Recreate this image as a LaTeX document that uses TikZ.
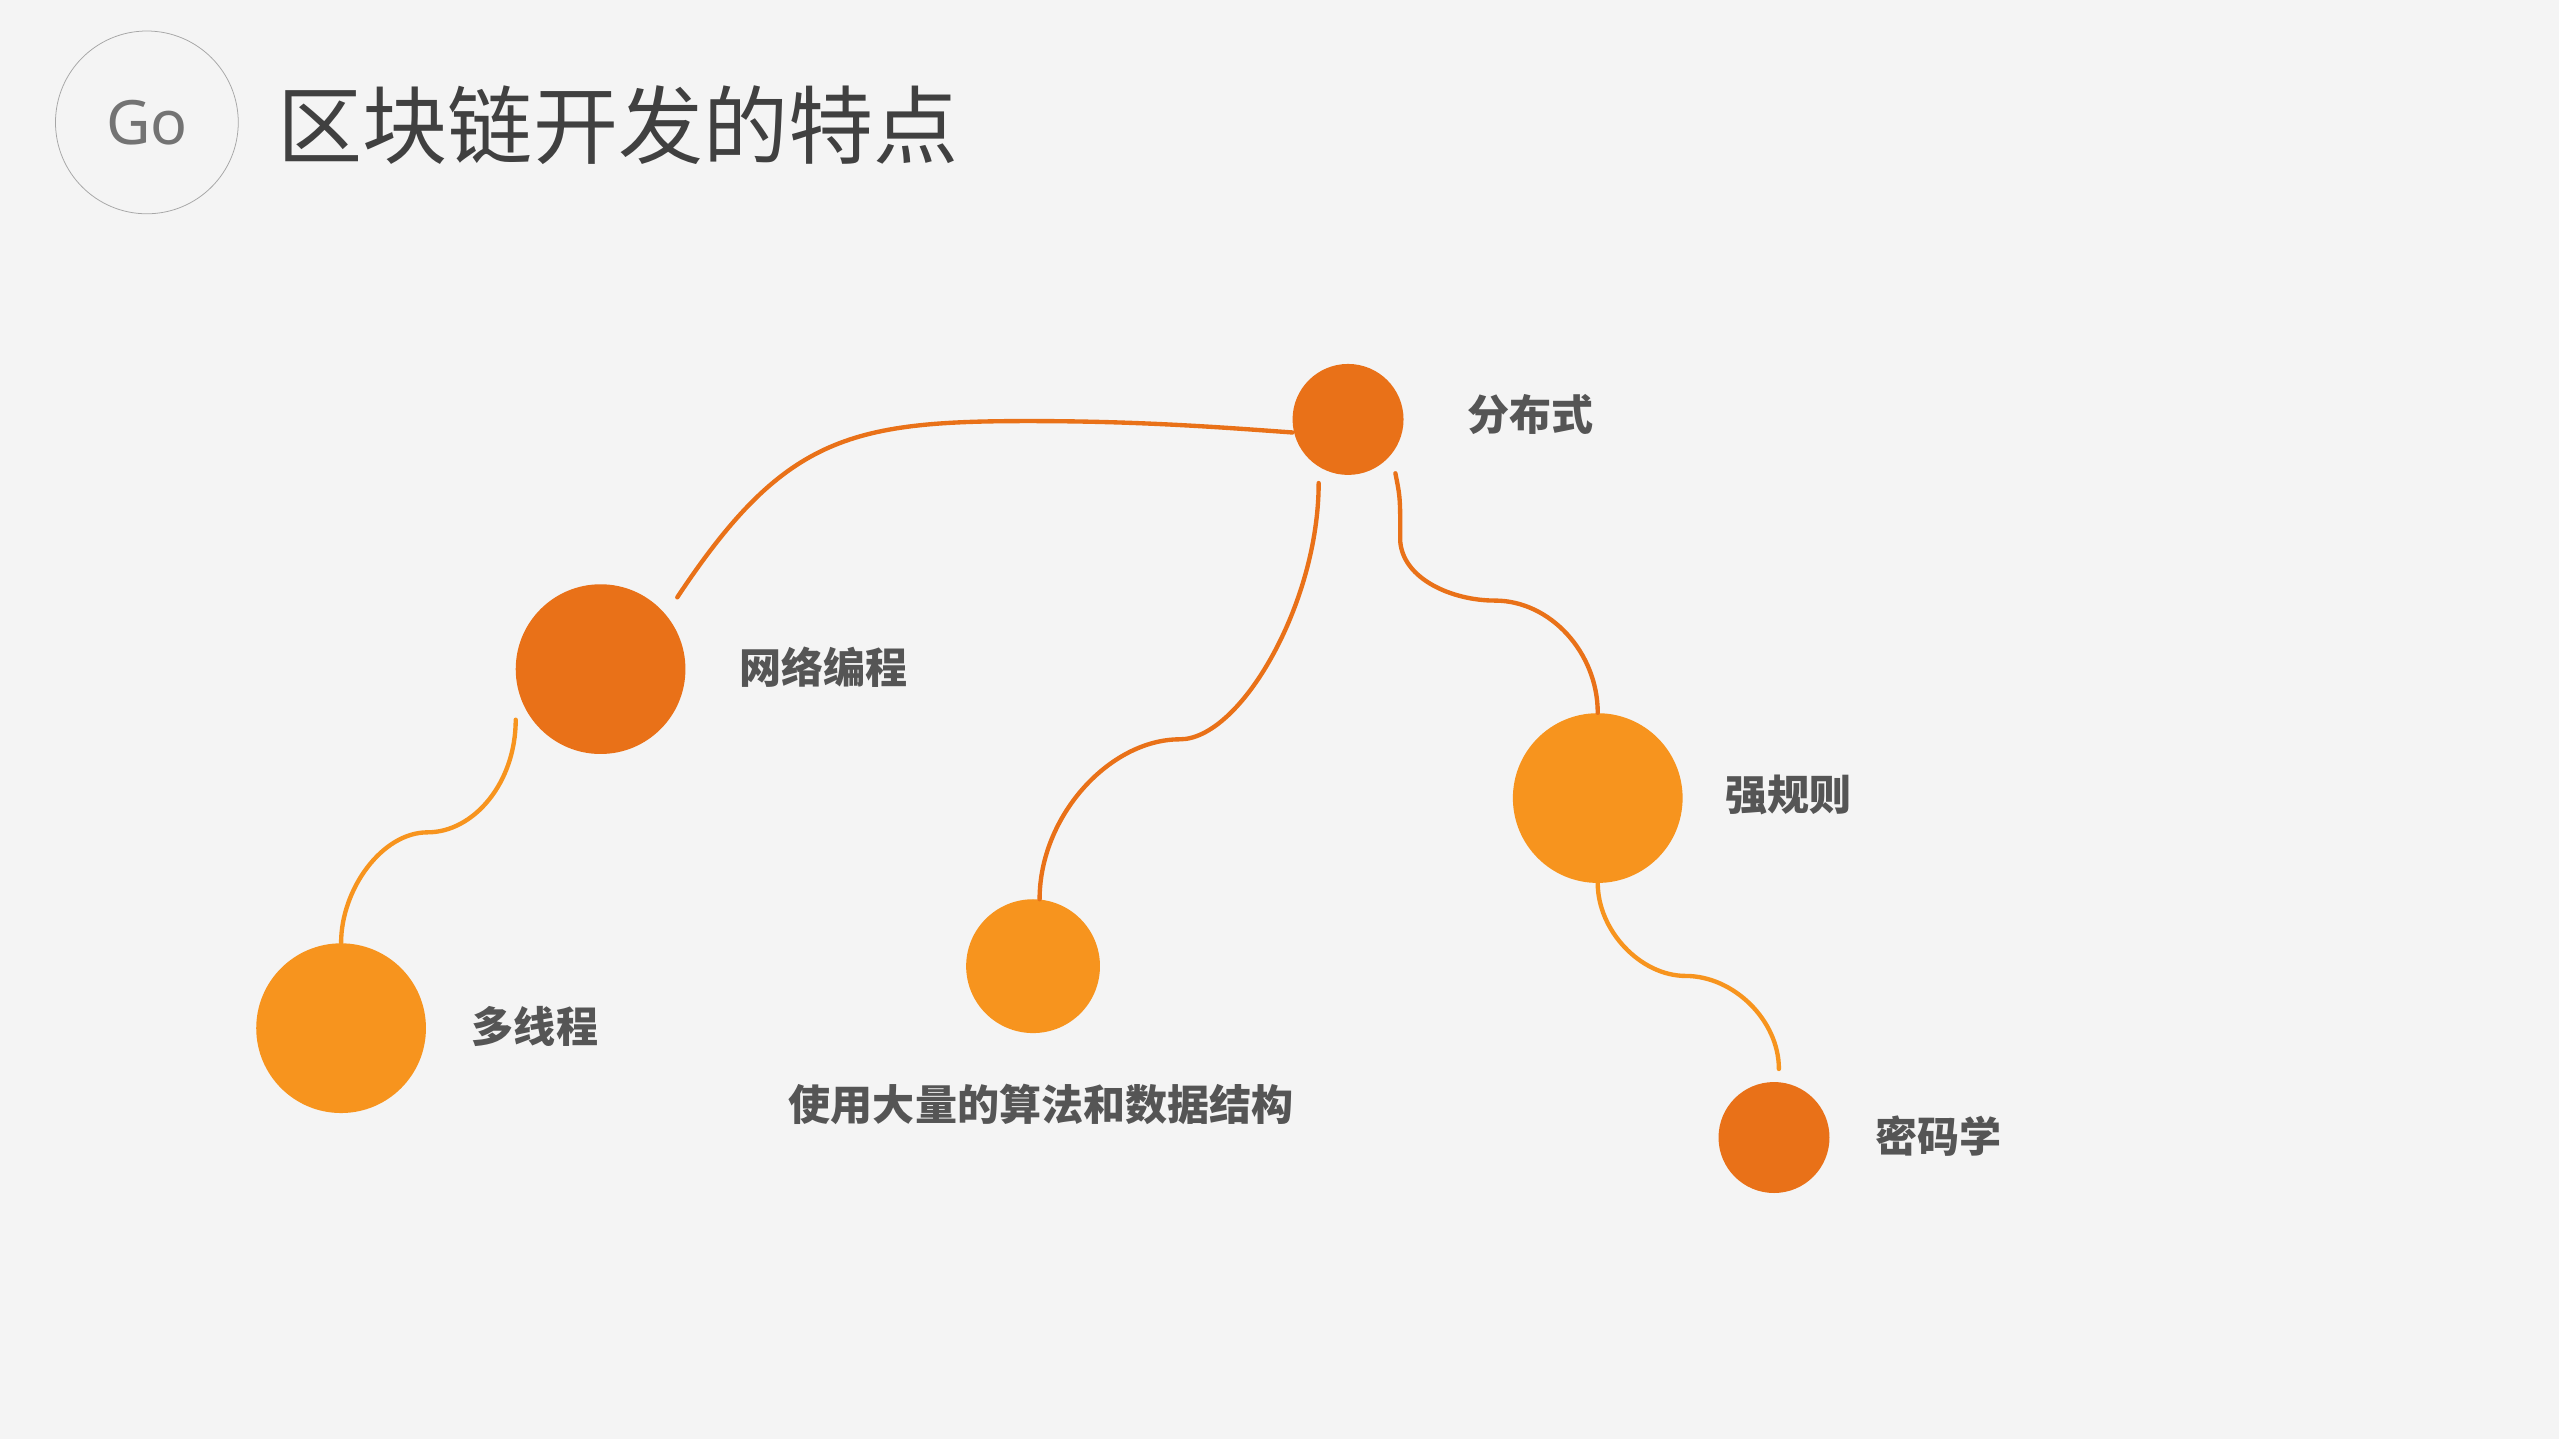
\documentclass[tikz,border=0pt]{standalone}
\usepackage{fontspec}
\newfontfamily\cjk{Noto Sans CJK SC}
\setmainfont{Noto Sans}
\definecolor{dark}{HTML}{E97118}
\definecolor{light}{HTML}{F7941E}
\definecolor{bg}{HTML}{F4F4F4}
\definecolor{txt}{HTML}{555555}
\begin{document}
\begin{tikzpicture}[x=0.3mm,y=-0.3mm,
  dot/.style={circle,inner sep=0pt},
  lab/.style={font=\cjk\bfseries\fontsize{22}{25}\selectfont,text=txt},
  link/.style={line width=0.8mm,line cap=round}]
\fill[bg] (0,0) rectangle (1568,882);
\useasboundingbox (0,0) rectangle (1568,882);
\node[circle,draw=gray!70,line width=0.4pt,minimum size=112*0.3mm,text=gray!90!black,font=\fontsize{32}{36}\selectfont] (go) at (90,75) {Go};
\node[anchor=west,text=black!75,font=\cjk\fontsize{44.5}{50}\selectfont,inner sep=0pt] (title) at (170,77) {区块链开发的特点};
\node[dot,fill=dark,minimum size=68*0.3mm] (fbs) at (826,257) {};
\node[dot,fill=dark,minimum size=104*0.3mm] (wl) at (368,410) {};
\node[dot,fill=light,minimum size=104*0.3mm] (dxc) at (209,630) {};
\node[dot,fill=light,minimum size=82*0.3mm] (sf) at (633,592) {};
\node[dot,fill=light,minimum size=104*0.3mm] (qgz) at (979,489) {};
\node[dot,fill=dark,minimum size=68*0.3mm] (mmx) at (1087,697) {};
\node[lab,anchor=west] (l1) at (895,254) {分布式};
\node[lab,anchor=west] (l2) at (449,409) {网络编程};
\node[lab,anchor=west] (l3) at (285,629) {多线程};
\node[lab] (l4) at (638,677) {使用大量的算法和数据结构};
\node[lab,anchor=west] (l5) at (1053,487) {强规则};
\node[lab,anchor=west] (l6) at (1145,696) {密码学};
\coordinate (a1) at (415,366);
\coordinate (a2) at (316,441);
\coordinate (a3) at (808,296);
\coordinate (a4) at (855,290);
\coordinate (e1) at (792,265);
\draw[link,dark] (a1) .. controls (480,268) and (520,258) .. (630,258) .. controls (700,258) and (750,262) .. (e1);
\draw[link,light] (a2) .. controls (316,480) and (290,510) .. (262,510) .. controls (234,510) and (209,545) .. (dxc.north);
\draw[link,dark] (a3) .. controls (808,370) and (760,453) .. (723,453) .. controls (680,453) and (637,500) .. (637,551);
\draw[link,dark] (a4) .. controls (858,305) .. (858,332) .. controls (860,355) and (890,368) .. (916,368) .. controls (950,368) and (979,400) .. (qgz.north);
\draw[link,light] (qgz.south) .. controls (979,570) and (1005,598) .. (1033,598) .. controls (1062,598) and (1090,625) .. (1090,655);
\end{tikzpicture}
\end{document}
